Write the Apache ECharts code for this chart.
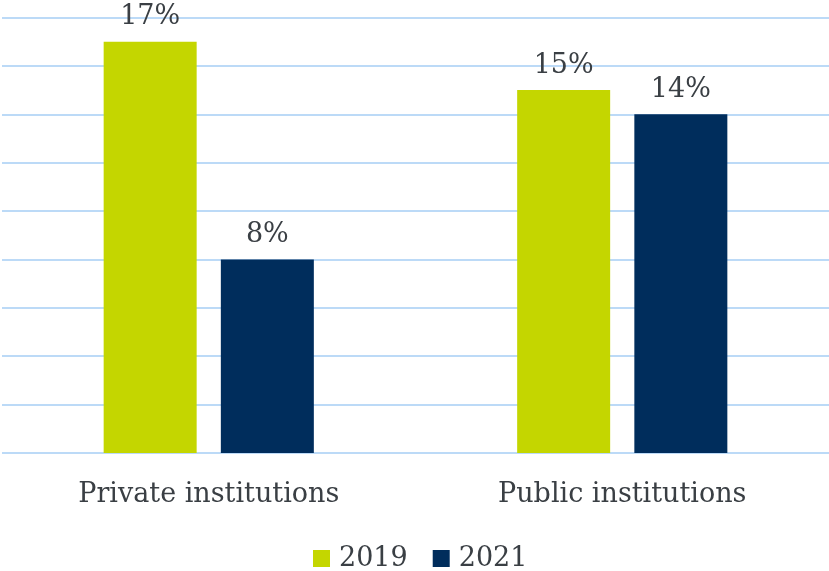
<!DOCTYPE html>
<html><head><meta charset="utf-8">
<script src="https://cdn.jsdelivr.net/npm/echarts@6/dist/echarts.min.js"></script>
<style>html,body{margin:0;padding:0;background:#fff}#c{width:829px;height:571px}</style>
</head><body><div id="c"></div>
<script>
const categories = ["Private institutions", "Public institutions"];
const seriesNames = ["2019", "2021"];
const values2019 = [17, 15];
const values2021 = [8, 14];
const colors = ["#c4d600", "#002d5c"];
const FONT = "DejaVu Serif";
const chart = echarts.init(document.getElementById('c'));
const labelStyle = {show: true, position: 'top', distance: 11, formatter: '{c}%', color: '#3a3f44', fontFamily: FONT, fontSize: 27};
chart.setOption({
  animation: false,
  grid: {left: 2, right: 0, top: 17.5, bottom: 118, containLabel: false},
  legend: {
    top: 540, left: 308, itemWidth: 17, itemHeight: 17, itemGap: 25, icon: 'rect',
    textStyle: {fontFamily: FONT, fontSize: 27, color: '#3a3f44', padding: [0, 0, 0, 4]},
    data: seriesNames
  },
  xAxis: {
    type: 'category', data: categories,
    axisLine: {show: false}, axisTick: {show: false},
    axisLabel: {fontFamily: FONT, fontSize: 27, color: '#3a3f44', margin: 28}
  },
  yAxis: {
    type: 'value', min: 0, max: 18, interval: 2,
    axisLabel: {show: false}, axisLine: {show: false}, axisTick: {show: false},
    splitLine: {lineStyle: {color: '#bcdaf7', width: 2}}
  },
  series: [
    {name: seriesNames[0], type: 'bar', data: values2019, itemStyle: {color: colors[0]}, barWidth: 93, barGap: '26%', label: labelStyle},
    {name: seriesNames[1], type: 'bar', data: values2021, itemStyle: {color: colors[1]}, barWidth: 93, barGap: '26%', label: labelStyle}
  ]
});
</script></body></html>
